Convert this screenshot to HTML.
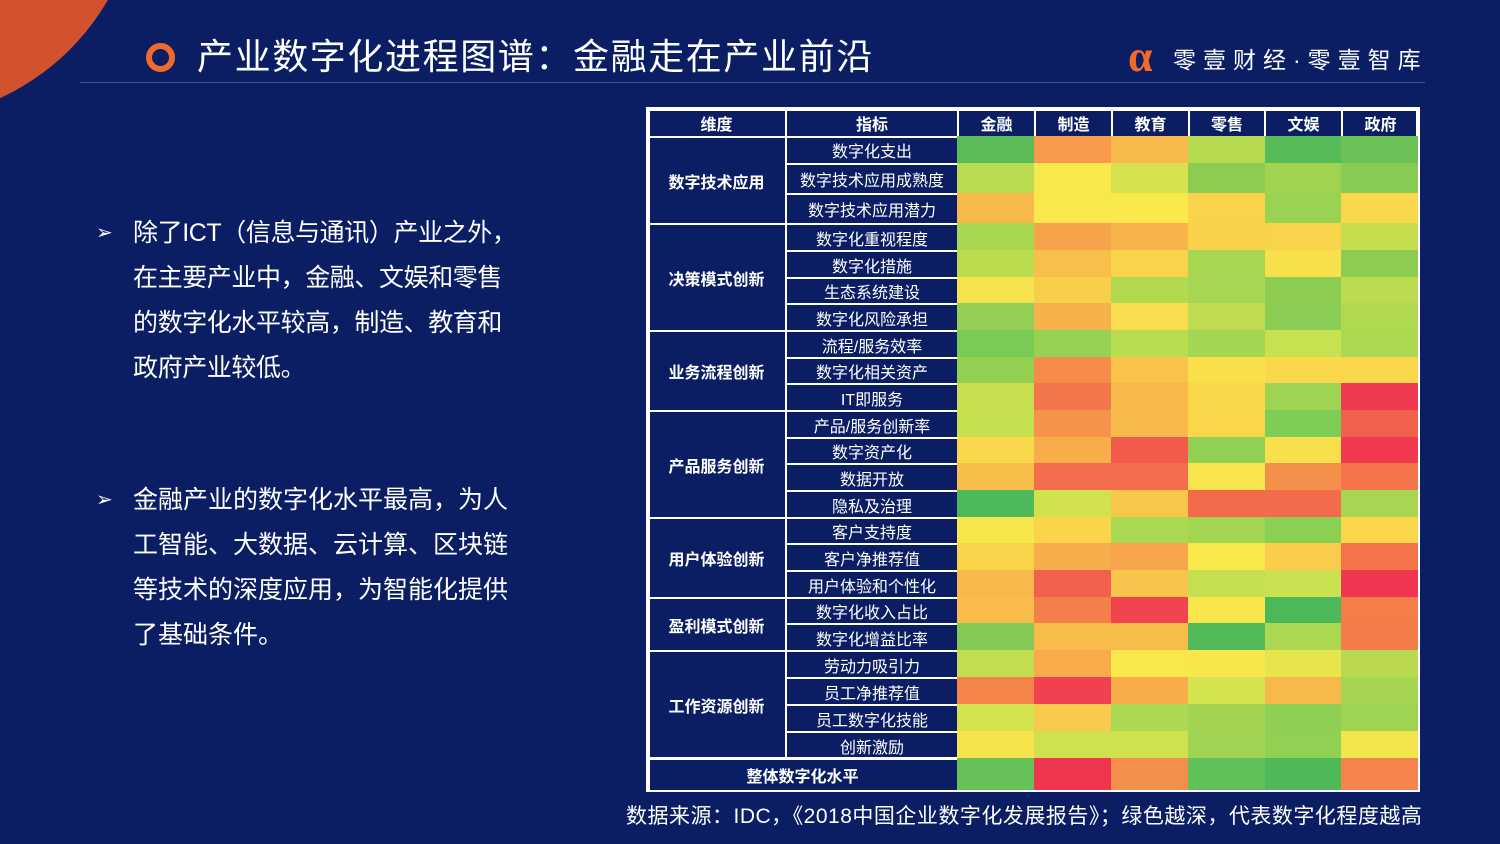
<!DOCTYPE html>
<html><head><meta charset="utf-8"><style>
body{margin:0;width:1500px;height:844px;background:#0b1e64;overflow:hidden;position:relative;font-family:"Liberation Sans","Noto Sans CJK SC",sans-serif;color:#fff}
.a{position:absolute}
.c{position:absolute;display:flex;align-items:center;justify-content:center;color:#fff;box-sizing:border-box}
.h{font-weight:bold;font-size:16px}
.ind{font-size:16px;border-top:2px solid #fff;left:785px;width:172px;border-left:2px solid #fff}
.dim{font-size:16px;font-weight:bold;border-top:2px solid #fff;left:648px;width:137px}
.grid{position:absolute;left:957px;top:136px;width:461px;display:grid;grid-template-columns:77px 77px 77px 77px 76px 77px;grid-template-rows:27px 30px 30px 27px 27px 26px 27px 27px 26px 27px 27px 26px 27px 27px 26px 27px 27px 26px 27px 27px 27px 27px 27px 32px}
.p{font-size:25px;line-height:45px;white-space:nowrap}
</style></head><body>
<div class="a" style="left:-340px;top:-360px;width:480px;height:480px;border-radius:50%;background:#d2522e"></div>
<div class="a" style="left:146px;top:43px;width:17px;height:17px;border:6px solid #f26a2a;border-radius:50%"></div>
<div class="a" style="left:197px;top:34px;font-size:36px;line-height:46px;white-space:nowrap;letter-spacing:1.6px">产业数字化进程图谱：金融走在产业前沿</div>
<div class="a" style="left:80px;top:82px;width:1345px;height:1px;background:#3b569c"></div>
<div class="a" style="left:1128px;top:34px;font-size:44px;line-height:46px;color:#f26a2a;font-weight:bold;font-family:'Liberation Serif',serif">α</div>
<div class="a" style="left:1173px;top:45px;font-size:23px;line-height:30px;letter-spacing:7px;white-space:nowrap">零壹财经·零壹智库</div>

<div class="a p" style="left:96px;top:211px;font-size:20px">➢</div>
<div class="a p" style="left:133px;top:211px;letter-spacing:-0.4px">除了ICT（信息与通讯）产业之外，<br>在主要产业中，金融、文娱和零售<br>的数字化水平较高，制造、教育和<br>政府产业较低。</div>
<div class="a p" style="left:96px;top:478px;font-size:20px">➢</div>
<div class="a p" style="left:133px;top:478px">金融产业的数字化水平最高，为人<br>工智能、大数据、云计算、区块链<br>等技术的深度应用，为智能化提供<br>了基础条件。</div>

<div class="a" style="left:646px;top:107px;width:774px;height:685px;background:#fff"></div>
<div class="a" style="left:650px;top:111px;width:766px;height:679px;background:#0b1e64"></div>
<div class="c h" style="left:648px;top:109px;width:137px;height:27px">维度</div>
<div class="c h" style="left:785px;top:109px;width:172px;height:27px;border-left:2px solid #fff">指标</div>
<div class="c h" style="left:957px;top:109px;width:77px;height:27px;border-left:2px solid #fff">金融</div>
<div class="c h" style="left:1034px;top:109px;width:77px;height:27px;border-left:2px solid #fff">制造</div>
<div class="c h" style="left:1111px;top:109px;width:77px;height:27px;border-left:2px solid #fff">教育</div>
<div class="c h" style="left:1188px;top:109px;width:76px;height:27px;border-left:2px solid #fff">零售</div>
<div class="c h" style="left:1264px;top:109px;width:77px;height:27px;border-left:2px solid #fff">文娱</div>
<div class="c h" style="left:1341px;top:109px;width:77px;height:27px;border-left:2px solid #fff">政府</div>

<div class="c dim" style="top:136px;height:87px">数字技术应用</div>
<div class="c dim" style="top:223px;height:107px">决策模式创新</div>
<div class="c dim" style="top:330px;height:80px">业务流程创新</div>
<div class="c dim" style="top:410px;height:107px">产品服务创新</div>
<div class="c dim" style="top:517px;height:80px">用户体验创新</div>
<div class="c dim" style="top:597px;height:53px">盈利模式创新</div>
<div class="c dim" style="top:650px;height:108px">工作资源创新</div>
<div class="c dim" style="top:758px;height:32px;width:309px">整体数字化水平</div>

<div class="c ind" style="top:136px;height:27px;align-items:flex-start">数字化支出</div>
<div class="c ind" style="top:163px;height:30px">数字技术应用成熟度</div>
<div class="c ind" style="top:193px;height:30px">数字技术应用潜力</div>
<div class="c ind" style="top:223px;height:27px">数字化重视程度</div>
<div class="c ind" style="top:250px;height:27px">数字化措施</div>
<div class="c ind" style="top:277px;height:26px">生态系统建设</div>
<div class="c ind" style="top:303px;height:27px">数字化风险承担</div>
<div class="c ind" style="top:330px;height:27px">流程/服务效率</div>
<div class="c ind" style="top:357px;height:26px">数字化相关资产</div>
<div class="c ind" style="top:383px;height:27px">IT即服务</div>
<div class="c ind" style="top:410px;height:27px">产品/服务创新率</div>
<div class="c ind" style="top:437px;height:26px">数字资产化</div>
<div class="c ind" style="top:463px;height:27px">数据开放</div>
<div class="c ind" style="top:490px;height:27px">隐私及治理</div>
<div class="c ind" style="top:517px;height:26px">客户支持度</div>
<div class="c ind" style="top:543px;height:27px">客户净推荐值</div>
<div class="c ind" style="top:570px;height:27px">用户体验和个性化</div>
<div class="c ind" style="top:597px;height:26px">数字化收入占比</div>
<div class="c ind" style="top:623px;height:27px">数字化增益比率</div>
<div class="c ind" style="top:650px;height:27px">劳动力吸引力</div>
<div class="c ind" style="top:677px;height:27px">员工净推荐值</div>
<div class="c ind" style="top:704px;height:27px">员工数字化技能</div>
<div class="c ind" style="top:731px;height:27px">创新激励</div>
<div class="a" style="left:648px;top:757px;width:309px;height:2px;background:#fff"></div>

<div class="grid">
<div style="background:#5cbc5a"></div><div style="background:#f79b4a"></div><div style="background:#f8bb4b"></div><div style="background:#b5da50"></div><div style="background:#58bb5a"></div><div style="background:#6cc256"></div>
<div style="background:#b9db4f"></div><div style="background:#f9e84d"></div><div style="background:#d6e24e"></div><div style="background:#8dcc53"></div><div style="background:#9fd350"></div><div style="background:#89cb54"></div>
<div style="background:#f8b94b"></div><div style="background:#f9e84d"></div><div style="background:#f9e94c"></div><div style="background:#f9d34a"></div><div style="background:#9ad351"></div><div style="background:#f9d94b"></div>
<div style="background:#a9d751"></div><div style="background:#f6a44a"></div><div style="background:#f7b44b"></div><div style="background:#f9d24b"></div><div style="background:#f8d44a"></div><div style="background:#c4de4f"></div>
<div style="background:#bcdc50"></div><div style="background:#f8c04b"></div><div style="background:#f9d34b"></div><div style="background:#a7d651"></div><div style="background:#f8e04c"></div><div style="background:#8dcc53"></div>
<div style="background:#f5e24d"></div><div style="background:#f8cf4b"></div><div style="background:#b3d951"></div><div style="background:#a6d652"></div><div style="background:#8ecd53"></div><div style="background:#bbdb50"></div>
<div style="background:#93cf53"></div><div style="background:#f7b14b"></div><div style="background:#f8dd4c"></div><div style="background:#bfdc50"></div><div style="background:#8bcc54"></div><div style="background:#b0d951"></div>
<div style="background:#7acb56"></div><div style="background:#98d252"></div><div style="background:#b8dd51"></div><div style="background:#a5d653"></div><div style="background:#c6e250"></div><div style="background:#add952"></div>
<div style="background:#93d052"></div><div style="background:#f58c4a"></div><div style="background:#f8c24b"></div><div style="background:#f9df4c"></div><div style="background:#fad74b"></div><div style="background:#f9d64a"></div>
<div style="background:#c7df4f"></div><div style="background:#f3764b"></div><div style="background:#f8b94b"></div><div style="background:#f9d74a"></div><div style="background:#9fd452"></div><div style="background:#f03a4f"></div>
<div style="background:#c4df4f"></div><div style="background:#f5934b"></div><div style="background:#f8ba4b"></div><div style="background:#f9d64a"></div><div style="background:#7dcd56"></div><div style="background:#f0604d"></div>
<div style="background:#f9d84b"></div><div style="background:#f7ad4a"></div><div style="background:#f25a4b"></div><div style="background:#92d053"></div><div style="background:#f8df4c"></div><div style="background:#f03850"></div>
<div style="background:#f8be4b"></div><div style="background:#f36c4b"></div><div style="background:#f36c4b"></div><div style="background:#f9e44d"></div><div style="background:#f5904b"></div><div style="background:#f5744b"></div>
<div style="background:#4db95a"></div><div style="background:#d1e24e"></div><div style="background:#f8c64b"></div><div style="background:#f36b4b"></div><div style="background:#f36b4b"></div><div style="background:#a8d652"></div>
<div style="background:#f8e74c"></div><div style="background:#fad54b"></div><div style="background:#aad851"></div><div style="background:#a1d552"></div><div style="background:#8ad153"></div><div style="background:#f9d64a"></div>
<div style="background:#f9d44b"></div><div style="background:#f7ad4b"></div><div style="background:#f6a54a"></div><div style="background:#f8e84c"></div><div style="background:#f9cd4b"></div><div style="background:#f3744b"></div>
<div style="background:#f8b84b"></div><div style="background:#f3604c"></div><div style="background:#f8c44b"></div><div style="background:#c4df4f"></div><div style="background:#cbe14f"></div><div style="background:#f03651"></div>
<div style="background:#f9bc4b"></div><div style="background:#f47f4a"></div><div style="background:#f0434f"></div><div style="background:#f8e64c"></div><div style="background:#4bb85a"></div><div style="background:#f47d4a"></div>
<div style="background:#84ca54"></div><div style="background:#f8bc4b"></div><div style="background:#f8bc4b"></div><div style="background:#52bb59"></div><div style="background:#abd752"></div><div style="background:#f47b4a"></div>
<div style="background:#c2dd4f"></div><div style="background:#f7ab4a"></div><div style="background:#f9e74c"></div><div style="background:#f9e54c"></div><div style="background:#e6e64c"></div><div style="background:#b9da50"></div>
<div style="background:#f5844b"></div><div style="background:#f04150"></div><div style="background:#f7ad4a"></div><div style="background:#d5e34e"></div><div style="background:#f7b94b"></div><div style="background:#a6d552"></div>
<div style="background:#d4e24e"></div><div style="background:#f9c94b"></div><div style="background:#aed852"></div><div style="background:#a4d352"></div><div style="background:#8ed053"></div><div style="background:#9ed452"></div>
<div style="background:#f7e44d"></div><div style="background:#cfe14e"></div><div style="background:#cfe14e"></div><div style="background:#a0d452"></div><div style="background:#90d053"></div><div style="background:#f2e54d"></div>
<div style="background:#66c158"></div><div style="background:#f0364f"></div><div style="background:#f48e4b"></div><div style="background:#5fc158"></div><div style="background:#4fb95a"></div><div style="background:#f4844b"></div>
</div>

<div class="a" style="left:626px;top:802px;font-size:21px;line-height:30px;white-space:nowrap;letter-spacing:0.5px">数据来源：IDC，《2018中国企业数字化发展报告》；绿色越深，代表数字化程度越高</div>
</body></html>
